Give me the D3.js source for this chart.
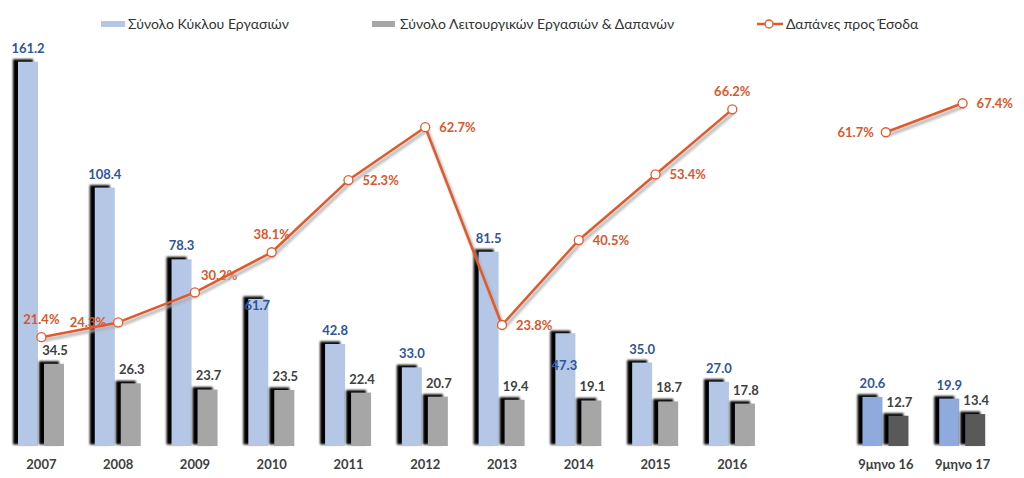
<!DOCTYPE html>
<html>
<head>
<meta charset="utf-8">
<script src="https://cdn.jsdelivr.net/npm/d3@7"></script>
<style>
html,body{margin:0;padding:0;background:#fff;}
svg{display:block;font-family:Lato,"Open Sans",sans-serif;}
</style>
</head>
<body>
<svg id="chart" width="1024" height="478"></svg>
<script>
// ---- data ----
const categories = ["2007","2008","2009","2010","2011","2012","2013","2014","2015","2016","","9μηνο 16","9μηνο 17"];
const revenue   = [161.2,108.4,78.3,61.7,42.8,33.0,81.5,47.3,35.0,27.0,null,20.6,19.9];
const expenses  = [34.5,26.3,23.7,23.5,22.4,20.7,19.4,19.1,18.7,17.8,null,12.7,13.4];
const ratio     = [21.4,24.3,30.2,38.1,52.3,62.7,23.8,40.5,53.4,66.2,null,61.7,67.4];
const seriesNames = ["Σύνολο Κύκλου Εργασιών","Σύνολο Λειτουργικών Εργασιών & Δαπανών","Δαπάνες προς Έσοδα"];

// ---- layout / style (not data) ----
const base = 446;
const C = {blue:"#b4c7e7", blue9:"#8faadc", gray:"#a6a6a6", gray9:"#595959",
           blueTxt:"#2f5597", grayTxt:"#404040", line:"#e2592b", lineTxt:"#d9572d", axisTxt:"#404040"};
const ratioPos = ["above","left","aboveRight","above","right","right","right","right","right","above",null,"left","right"];
const revShift = {3: 20, 7: 46};

const svg = d3.select("#chart");
const defs = svg.append("defs");
const f = defs.append("filter").attr("id","shadow").attr("x","-50%").attr("y","-10%").attr("width","200%").attr("height","120%");
f.append("feGaussianBlur").attr("stdDeviation",0.9);
const f2 = defs.append("filter").attr("id","lshadow").attr("x","-10%").attr("y","-10%").attr("width","120%").attr("height","120%");
f2.append("feGaussianBlur").attr("stdDeviation",1.2);

const x = d3.scaleBand().domain(categories).range([3,1001]);
const sub = d3.scaleBand().domain(["rev","exp"]).range([15,61]).paddingInner(0.23);
const y = d3.scaleLinear().domain([0,180]).range([base, base-180*2.384]);
const y2 = d3.scaleLinear().domain([0,100]).range([base, base-508.5]);

const idx = d3.range(categories.length).filter(i => revenue[i] != null);
const is9 = i => i > 10;

function drawBars(vals, key, col, col9){
  const g = svg.append("g");
  const bw = sub.bandwidth();
  g.selectAll("rect.sh").data(idx).join("rect")
    .attr("x", i => x(categories[i]) + sub(key) - 5)
    .attr("y", i => y(vals[i]) - 2.5)
    .attr("width", bw).attr("height", i => base - y(vals[i]) + 1)
    .attr("fill","#000").attr("filter","url(#shadow)");
  g.selectAll("rect.b").data(idx).join("rect")
    .attr("x", i => x(categories[i]) + sub(key))
    .attr("y", i => y(vals[i]))
    .attr("width", bw).attr("height", i => base - y(vals[i]))
    .attr("fill", i => is9(i) ? col9 : col);
}
drawBars(revenue,"rev",C.blue,C.blue9);
drawBars(expenses,"exp",C.gray,C.gray9);

const lbl = svg.append("g").attr("font-size",13).attr("font-weight","bold").attr("text-anchor","middle");
lbl.selectAll("text.r").data(idx).join("text")
  .attr("x", i => x(categories[i]) + sub("rev") + sub.bandwidth()/2 + (revShift[i] ? -1 : 0))
  .attr("y", i => y(revenue[i]) - 9 + (revShift[i] || 0))
  .attr("fill", C.blueTxt).text(i => revenue[i].toFixed(1));
lbl.selectAll("text.e").data(idx).join("text")
  .attr("x", i => x(categories[i]) + sub("exp") + sub.bandwidth()/2 + 1)
  .attr("y", i => y(expenses[i]) - 9)
  .attr("fill", C.grayTxt).text(i => expenses[i].toFixed(1));

const cx = i => x(categories[i]) + x.bandwidth()/2;
const rl = svg.append("g").attr("font-size",13).attr("font-weight","bold").attr("fill",C.lineTxt);
rl.selectAll("text").data(idx).join("text")
  .attr("x", i => {
    const p = ratioPos[i];
    if (p === "above") return cx(i);
    if (p === "left") return cx(i) - 12;
    if (p === "aboveRight") return cx(i) + 6;
    return cx(i) + 14;
  })
  .attr("y", i => {
    const p = ratioPos[i], py = y2(ratio[i]);
    if (p === "above") return py - 13;
    if (p === "aboveRight") return py - 12;
    return py + 5;
  })
  .attr("text-anchor", i => ratioPos[i] === "above" ? "middle" : ratioPos[i] === "left" ? "end" : "start")
  .text(i => ratio[i].toFixed(1) + "%");

const line = d3.line().defined(i => ratio[i] != null).x(i => cx(i)).y(i => y2(ratio[i]));
const allIdx = d3.range(categories.length);
svg.append("path").attr("d", line(allIdx)).attr("fill","none").attr("stroke","#b0b0b0")
  .attr("stroke-width",3.5).attr("transform","translate(2,3)").attr("filter","url(#lshadow)").attr("opacity",0.8);
svg.append("path").attr("d", line(allIdx)).attr("fill","none").attr("stroke",C.line).attr("stroke-width",2.5)
  .attr("stroke-linejoin","round");
svg.append("g").selectAll("circle").data(idx).join("circle")
  .attr("cx", cx).attr("cy", i => y2(ratio[i])).attr("r",4.5)
  .attr("fill","#fff").attr("stroke",C.line).attr("stroke-width",1.3);

const ax = svg.append("g").attr("transform",`translate(0,${base})`)
  .call(d3.axisBottom(x).tickSize(0).tickPadding(14));
ax.select(".domain").remove();
ax.selectAll("text").attr("font-family","Lato,'Open Sans',sans-serif").attr("font-size",13)
  .attr("font-weight","bold").attr("fill",C.axisTxt);

const lg = svg.append("g").attr("font-size",14).attr("fill","#333");
lg.append("rect").attr("x",101).attr("y",21).attr("width",24).attr("height",6).attr("fill",C.blue);
lg.append("text").attr("x",128).attr("y",29).text(seriesNames[0]);
lg.append("rect").attr("x",372).attr("y",21).attr("width",23).attr("height",6).attr("fill",C.gray);
lg.append("text").attr("x",400).attr("y",29).text(seriesNames[1]);
lg.append("line").attr("x1",757).attr("x2",783).attr("y1",24).attr("y2",24).attr("stroke",C.line).attr("stroke-width",2.5);
lg.append("circle").attr("cx",769).attr("cy",24).attr("r",4).attr("fill","#fff").attr("stroke",C.line).attr("stroke-width",1.3);
lg.append("text").attr("x",786).attr("y",29).text(seriesNames[2]);
</script>
</body>
</html>
